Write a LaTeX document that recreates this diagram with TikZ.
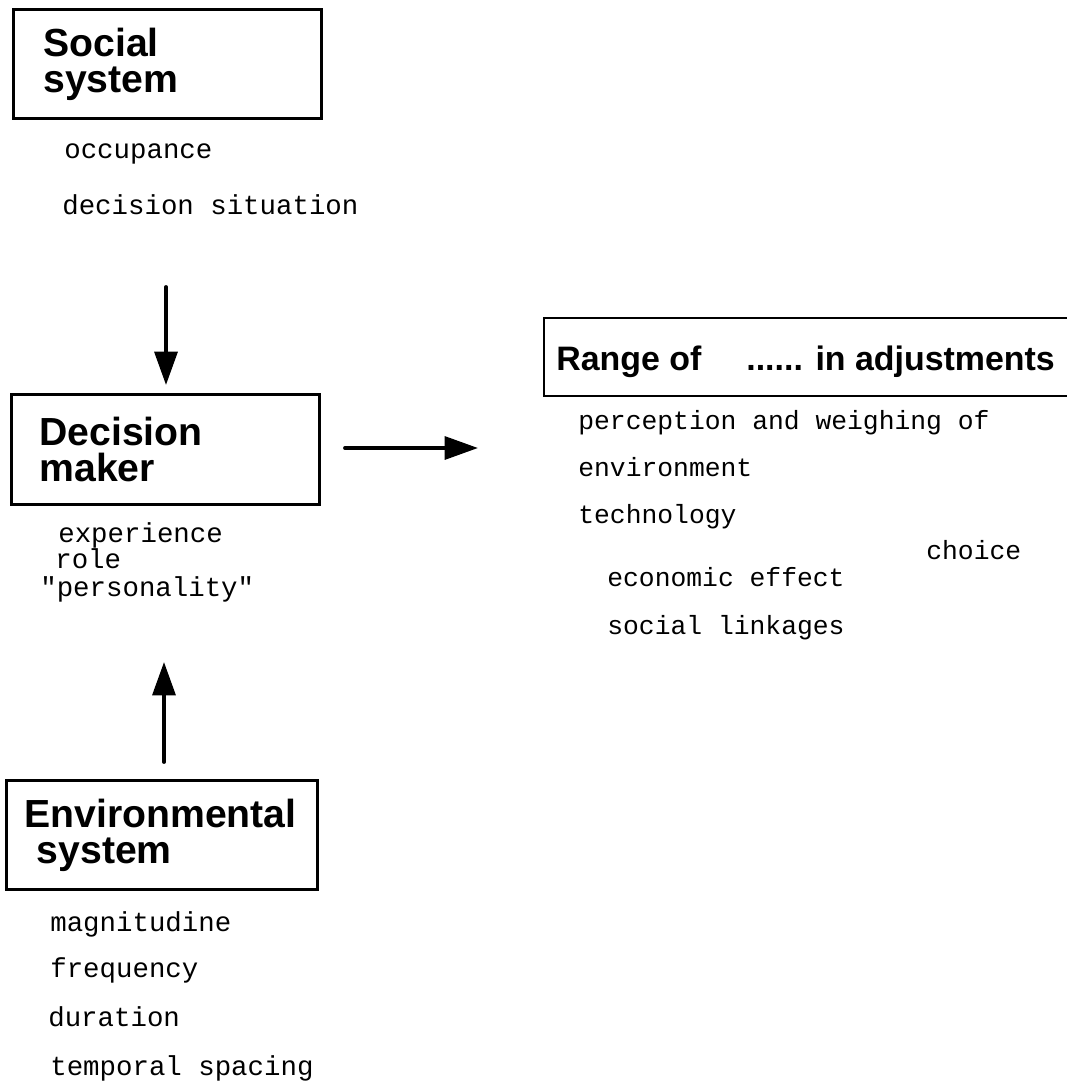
\documentclass[tikz,border=0pt]{standalone}
\usepackage{fontspec}
\setsansfont{Liberation Sans}
\newfontfamily\listfont{Liberation Mono}
\usetikzlibrary{arrows.meta}

\newcommand{\headfont}{\sffamily\bfseries\fontsize{22.3}{20.5}\selectfont}
\newcommand{\rangefont}{\sffamily\bfseries\fontsize{19.3}{19}\selectfont}
\newcommand{\itemfont}{\listfont\fontsize{15}{18}\selectfont}
\newcommand{\wideitemfont}{\listfont\fontsize{15.6}{18}\selectfont}

\tikzset{
  sysbox/.style={draw, line width=1.6pt, anchor=north west, align=left,
    font=\headfont, inner ysep=0pt},
  listitem/.style={anchor=base west, inner sep=0pt, font=\itemfont},
  leftitem/.style={listitem, font=\wideitemfont},
  flow/.style={line width=2.2pt, line cap=round,
    -{Triangle[length=19pt,width=13pt]}}
}

\begin{document}
\begin{tikzpicture}[x=0.02cm, y=-0.02cm]
\useasboundingbox (0,0) rectangle (1067,1085);

% Social system and its factors
\node[sysbox, text width=4.96cm, inner xsep=0.6cm, minimum height=2.18cm]
  (social) at (12,8) {Social\\system};
\node[leftitem] (occ) at (64,158) {occupance};
\node[leftitem] (decsit) at (62,214) {decision situation};

% Decision maker
\node[sysbox, text width=5.04cm, inner xsep=0.56cm, minimum height=2.2cm]
  (maker) at (10,393) {Decision\\maker};
\node[leftitem] (exper) at (58,542) {experience};
\node[leftitem] (role) at (55,568) {role};
\node[leftitem] (pers) at (40,596) {"personality"};

% Environmental system and its factors
\node[sysbox, text width=5.5cm, inner xsep=0.36cm, minimum height=2.18cm]
  (envsys) at (5,779) {Environmental\\\hspace*{7pt}system};
\node[leftitem] (magn) at (50,931) {magnitudine};
\node[leftitem] (freq) at (50,977) {frequency};
\node[leftitem] (dur) at (48,1026) {duration};
\node[leftitem] (tspace) at (50,1075) {temporal spacing};

% Range of choice, box left open on the right
\node[anchor=base west, inner sep=0pt, font=\rangefont] (range) at (556,370)
  {Range of\hspace{0.9cm}...... in adjustments};
\draw[line width=1.6pt] (1067,318) -| (544,396) -- (1067,396);
\node[listitem] (percep) at (578,429) {perception and weighing of};
\node[listitem] (environ) at (578,476) {environment};
\node[listitem] (techn) at (578,523) {technology};
\node[listitem] (choice) at (926,559) {choice};
\node[listitem] (econ) at (607,586) {economic effect};
\node[listitem] (sociallink) at (607,634) {social linkages};

% Arrows
\coordinate (socout) at (166,287);
\coordinate (makerin) at (166,385);
\coordinate (envout) at (164,762);
\coordinate (makerbelow) at (164,662);
\coordinate (makerout) at (345,448);
\coordinate (rangein) at (478,448);
\draw[flow] (socout) -- (makerin);
\draw[flow] (envout) -- (makerbelow);
\draw[flow] (makerout) -- (rangein);
\end{tikzpicture}
\end{document}
